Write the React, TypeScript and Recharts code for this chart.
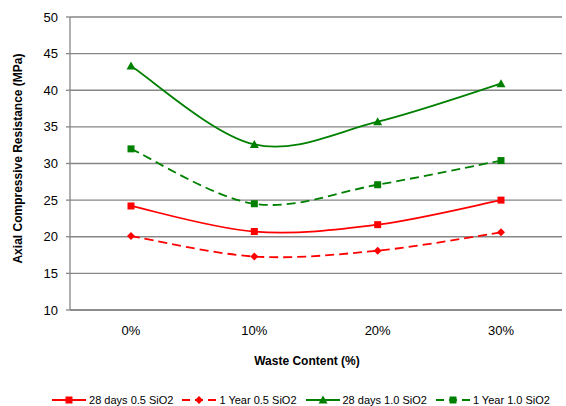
import { CartesianGrid, Label, Legend, Line, LineChart, XAxis, YAxis } from "recharts";

const categories = ["0%", "10%", "20%", "30%"];
const days28Si05 = [24.2, 20.7, 21.65, 25.0];
const year1Si05 = [20.1, 17.3, 18.1, 20.6];
const days28Si10 = [43.3, 32.6, 35.7, 40.9];
const year1Si10 = [32.0, 24.5, 27.1, 30.4];
const yTicks = [10, 15, 20, 25, 30, 35, 40, 45, 50];

const RED = "#ff0000";
const GREEN = "#008000";
const GRID = "#868686";
const FONT = "'Liberation Sans', Arial, sans-serif";

const data = categories.map((c, i) => ({
  cat: c,
  d28a: days28Si05[i],
  y1a: year1Si05[i],
  d28b: days28Si10[i],
  y1b: year1Si10[i],
}));

// Excel-style smoothed line (Catmull-Rom as cubic bezier)
function excelSmooth(context: any) {
  let pts: [number, number][] = [];
  return {
    areaStart() {},
    areaEnd() {},
    lineStart() {
      pts = [];
    },
    lineEnd() {
      if (!pts.length) return;
      context.moveTo(pts[0][0], pts[0][1]);
      for (let i = 0; i < pts.length - 1; i++) {
        const p0 = pts[i - 1] || pts[i];
        const p1 = pts[i];
        const p2 = pts[i + 1];
        const p3 = pts[i + 2] || p2;
        context.bezierCurveTo(
          p1[0] + (p2[0] - p0[0]) / 6,
          p1[1] + (p2[1] - p0[1]) / 6,
          p2[0] - (p3[0] - p1[0]) / 6,
          p2[1] - (p3[1] - p1[1]) / 6,
          p2[0],
          p2[1],
        );
      }
    },
    point(x: number, y: number) {
      pts.push([+x, +y]);
    },
  };
}

type Shape = "square" | "diamond" | "triangle";

function markerPath(shape: Shape, cx: number, cy: number) {
  if (shape === "square") return `M${cx - 3.5},${cy - 3.5}h7v7h-7z`;
  if (shape === "diamond") return `M${cx},${cy - 4}L${cx + 4},${cy}L${cx},${cy + 4}L${cx - 4},${cy}z`;
  return `M${cx},${cy - 4.5}L${cx + 4.5},${cy + 3.5}L${cx - 4.5},${cy + 3.5}z`;
}

function makeDot(shape: Shape, color: string) {
  return (props: any) => {
    const { cx, cy, index } = props;
    if (cx == null || cy == null) return <g key={index} />;
    return <path key={index} d={markerPath(shape, cx, cy)} fill={color} stroke="none" />;
  };
}

const series = [
  { key: "d28a", name: "28 days 0.5 SiO2", color: RED, shape: "square" as Shape, dash: undefined },
  { key: "y1a", name: "1 Year 0.5 SiO2", color: RED, shape: "diamond" as Shape, dash: "9 5" },
  { key: "d28b", name: "28 days 1.0 SiO2", color: GREEN, shape: "triangle" as Shape, dash: undefined },
  { key: "y1b", name: "1 Year 1.0 SiO2", color: GREEN, shape: "square" as Shape, dash: "9 5" },
];

function LegendContent() {
  return (
    <div
      style={{
        display: "flex",
        justifyContent: "center",
        alignItems: "center",
        gap: 9,
        paddingLeft: 40,
        paddingTop: 10,
        fontFamily: FONT,
        fontSize: 11,
        color: "#000",
        height: 20,
      }}
    >
      {series.map((s) => (
        <div key={s.key} style={{ display: "flex", alignItems: "center", gap: 3 }}>
          <svg width={34} height={10}>
            <line x1={0} y1={5} x2={34} y2={5} stroke={s.color} strokeWidth={2} strokeDasharray={s.dash ? "8 5" : undefined} />
            <path d={markerPath(s.shape, 17, 5)} fill={s.color} />
          </svg>
          <span>{s.name}</span>
        </div>
      ))}
    </div>
  );
}

export default function App() {
  return (
    <div style={{ position: "absolute", left: 0, top: 0, width: 566, height: 406, background: "#fff" }}>
      <LineChart width={566} height={406} data={data} margin={{ top: 17, right: 4, bottom: 0, left: 0 }}>
        <CartesianGrid vertical={false} stroke={GRID} strokeWidth={1.3} />
        <XAxis
          dataKey="cat"
          type="category"
          padding={{ left: 61, right: 61 }}
          axisLine={{ stroke: GRID, strokeWidth: 1.3 }}
          tickLine={false}
          tickSize={6}
          tickMargin={10}
          height={70}
          tick={{ fill: "#000", fontSize: 13, fontFamily: FONT }}
        >
          <Label
            content={(p: any) => {
              const vb = p.viewBox;
              return (
                <text
                  x={vb.x + vb.width / 2 - 9}
                  y={365}
                  textAnchor="middle"
                  fontFamily={FONT}
                  fontSize={12}
                  fontWeight="bold"
                  fill="#000"
                >
                  Waste Content (%)
                </text>
              );
            }}
          />
        </XAxis>
        <YAxis
          width={70}
          domain={[10, 50]}
          ticks={yTicks}
          axisLine={{ stroke: GRID, strokeWidth: 1.3 }}
          tickLine={{ stroke: GRID, strokeWidth: 1.3 }}
          tickSize={4}
          tickMargin={8}
          tick={{ fill: "#000", fontSize: 13, fontFamily: FONT }}
        >
          <Label
            content={(p: any) => {
              const vb = p.viewBox;
              const cy = vb.y + vb.height / 2 - 5;
              return (
                <text
                  x={22}
                  y={cy}
                  transform={`rotate(-90, 22, ${cy})`}
                  textAnchor="middle"
                  fontFamily={FONT}
                  fontSize={12}
                  fontWeight="bold"
                  fill="#000"
                >
                  Axial Compressive Resistance (MPa)
                </text>
              );
            }}
          />
        </YAxis>
        <YAxis
          yAxisId="border"
          orientation="right"
          width={0}
          tick={false}
          tickLine={false}
          axisLine={{ stroke: GRID, strokeWidth: 1.3 }}
        />
        <Legend
          verticalAlign="bottom"
          content={<LegendContent />}
          wrapperStyle={{ height: 26 }}
        />
        {series.map((s) => (
          <Line
            key={s.key}
            dataKey={s.key}
            name={s.name}
            type={excelSmooth as any}
            stroke={s.color}
            strokeWidth={1.8}
            strokeDasharray={s.dash}
            dot={makeDot(s.shape, s.color)}
            activeDot={false}
            isAnimationActive={false}
          />
        ))}
      </LineChart>
    </div>
  );
}
